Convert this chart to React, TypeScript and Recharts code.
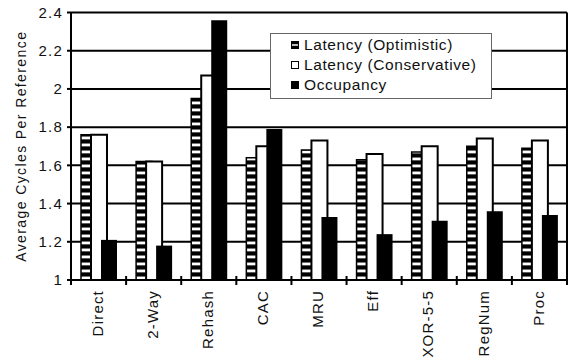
import React from 'react';
import { BarChart, Bar, XAxis, YAxis, CartesianGrid, Legend } from 'recharts';

const categories = ['Direct', '2-Way', 'Rehash', 'CAC', 'MRU', 'Eff', 'XOR-5-5', 'RegNum', 'Proc'];
const latencyOptimistic = [1.76, 1.62, 1.95, 1.64, 1.68, 1.63, 1.67, 1.7, 1.69];
const latencyConservative = [1.76, 1.62, 2.07, 1.7, 1.73, 1.66, 1.7, 1.74, 1.73];
const occupancy = [1.21, 1.18, 2.36, 1.79, 1.33, 1.24, 1.31, 1.36, 1.34];
const yTicks = [1, 1.2, 1.4, 1.6, 1.8, 2, 2.2, 2.4];
const yTickLabels = ['1', '1.2', '1.4', '1.6', '1.8', '2', '2.2', '2.4'];
const seriesNames = ['Latency (Optimistic)', 'Latency (Conservative)', 'Occupancy'];
const yAxisTitle = 'Average Cycles Per Reference';

const data = categories.map((c, i) => ({
  name: c,
  opt: latencyOptimistic[i],
  cons: latencyConservative[i],
  occ: occupancy[i],
}));

const FONT = '"Liberation Sans", Arial, Helvetica, sans-serif';
const TEXT = '#111';

function XTick(props: any) {
  const { x, y, payload, index, visibleTicksCount } = props;
  const half = payload && payload.offset ? payload.offset : 0;
  return (
    <g>
      <line x1={x - half} x2={x - half} y1={y - 4} y2={y + 5} stroke="#000" strokeWidth={2} />
      {index === visibleTicksCount - 1 && (
        <line x1={x + half} x2={x + half} y1={y - 4} y2={y + 5} stroke="#000" strokeWidth={2} />
      )}
      <text
        x={x - 1}
        y={y + 10}
        transform={`rotate(-90, ${x - 1}, ${y + 10})`}
        textAnchor="end"
        dy="0.35em"
        fontFamily={FONT}
        fontSize={15}
        letterSpacing={1.2}
        fill={TEXT}
      >
        {payload.value}
      </text>
    </g>
  );
}

function YTitle(props: any) {
  const vb = props.viewBox || { x: 0, y: 0, width: 0, height: 0 };
  const cx = vb.x + 26;
  const cy = vb.y + vb.height / 2;
  return (
    <text
      x={cx}
      y={cy}
      transform={`rotate(-90, ${cx}, ${cy})`}
      textAnchor="middle"
      fontFamily={FONT}
      fontSize={14}
      letterSpacing={1.4}
      fill={TEXT}
    >
      {yAxisTitle}
    </text>
  );
}

function Marker({ i }: { i: number }) {
  if (i === 0) {
    return (
      <svg width={8} height={8} style={{ marginRight: 5, display: 'block' }}>
        <rect x={0.5} y={0.5} width={7} height={7} fill="#000" stroke="#000" />
        <rect x={1} y={3} width={6} height={2} fill="#bbb" />
      </svg>
    );
  }
  if (i === 1) {
    return (
      <svg width={8} height={8} style={{ marginRight: 5, display: 'block' }}>
        <rect x={0.5} y={0.5} width={7} height={7} fill="#fff" stroke="#000" />
      </svg>
    );
  }
  return (
    <svg width={8} height={8} style={{ marginRight: 5, display: 'block' }}>
      <rect x={0} y={0} width={8} height={8} fill="#000" />
    </svg>
  );
}

function LegendBox() {
  return (
    <div
      style={{
        width: 222,
        height: 66,
        boxSizing: 'border-box',
        border: '1px solid #666',
        background: '#fff',
        fontFamily: FONT,
        fontSize: 15.5,
        color: TEXT,
        padding: '1px 0 0 20px',
      }}
    >
      {seriesNames.map((n, i) => (
        <div key={n} style={{ display: 'flex', alignItems: 'center', height: 20, letterSpacing: 0.6, whiteSpace: 'nowrap' }}>
          <Marker i={i} />
          <span>{n}</span>
        </div>
      ))}
    </div>
  );
}

export default function App() {
  return (
    <div style={{ position: 'absolute', left: 0, top: 0, width: 568, height: 358, background: '#fff' }}>
      <svg width={0} height={0} style={{ position: 'absolute' }}>
        <defs>
          <pattern id="stripes" patternUnits="userSpaceOnUse" width={10} height={7}>
            <rect width={10} height={7} fill="#000" />
            <rect y={3} width={10} height={0.8} fill="#666" />
            <rect y={3.8} width={10} height={2.4} fill="#fff" />
            <rect y={6.2} width={10} height={0.8} fill="#666" />
          </pattern>
        </defs>
      </svg>
      <BarChart
        width={568}
        height={358}
        data={data}
        margin={{ top: 12.5, right: 0, left: 0, bottom: 0 }}
        barSize={16}
        barGap={-6}
      >
        <CartesianGrid vertical={false} stroke="#000" strokeWidth={2} />
        <XAxis
          dataKey="name"
          interval={0}
          height={78}
          tickSize={0}
          tickMargin={0}
          tickLine={false}
          axisLine={{ stroke: '#000', strokeWidth: 2 }}
          tick={<XTick />}
        />
        <YAxis
          yAxisId={0}
          domain={[1, 2.4]}
          ticks={yTicks}
          interval={0}
          width={71}
          tickSize={4}
          tickMargin={4}
          tickLine={{ stroke: '#000', strokeWidth: 2 }}
          axisLine={{ stroke: '#000', strokeWidth: 2 }}
          tickFormatter={(v: number) => yTickLabels[yTicks.indexOf(v)] ?? String(v)}
          tick={{ fontFamily: FONT, fontSize: 15, fill: TEXT, letterSpacing: 1.2 } as any}
          label={<YTitle />}
        />
        <YAxis
          yAxisId="r"
          orientation="right"
          domain={[1, 2.4]}
          width={1}
          tick={false}
          tickLine={false}
          axisLine={{ stroke: '#000', strokeWidth: 2 }}
        />
        <Legend
          layout="vertical"
          align="center"
          verticalAlign="middle"
          content={<LegendBox />}
          wrapperStyle={{ position: 'absolute', left: 270, top: 33, width: 222, height: 66 }}
        />
        <Bar dataKey="opt" name={seriesNames[0]} yAxisId={0} fill="url(#stripes)" stroke="#000" strokeWidth={1.5} isAnimationActive={false} />
        <Bar dataKey="cons" name={seriesNames[1]} yAxisId={0} fill="#fff" stroke="#000" strokeWidth={2} isAnimationActive={false} />
        <Bar dataKey="occ" name={seriesNames[2]} yAxisId={0} fill="#000" isAnimationActive={false} />
      </BarChart>
    </div>
  );
}
